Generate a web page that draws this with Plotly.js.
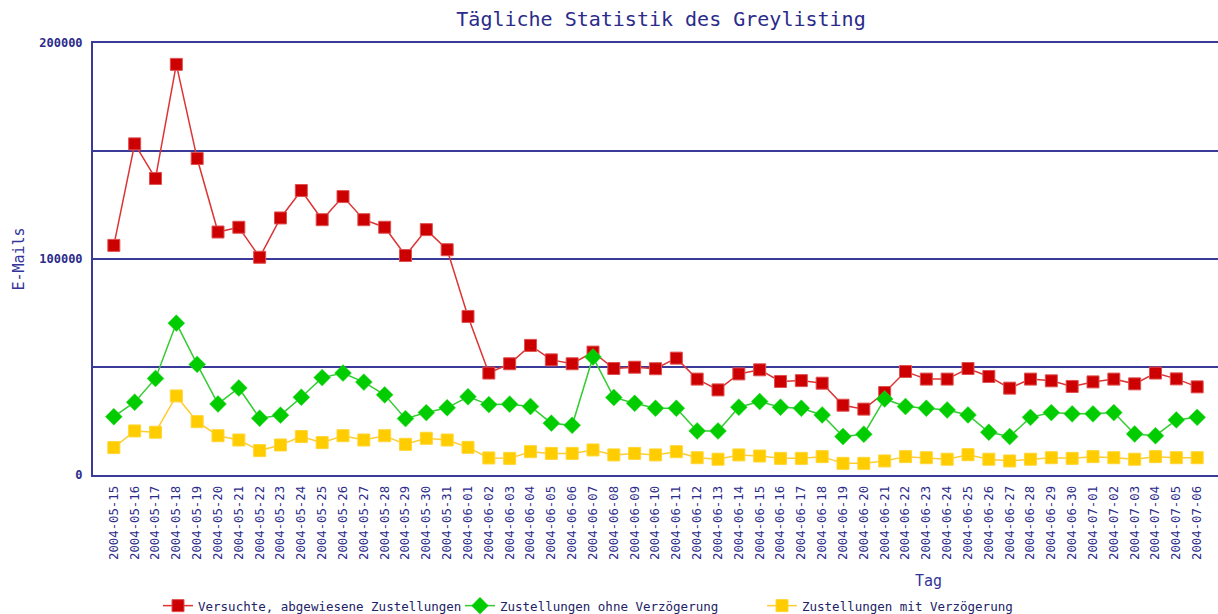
<!DOCTYPE html>
<html>
<head>
<meta charset="utf-8">
<script src="https://cdn.plot.ly/plotly-3.0.1.min.js"></script>
<style>html,body{margin:0;padding:0;background:#fff}#chart{width:1218px;height:614px}</style>
</head>
<body>
<div id="chart"></div>
<script>
const days = ["2004-05-15","2004-05-16","2004-05-17","2004-05-18","2004-05-19","2004-05-20","2004-05-21","2004-05-22","2004-05-23","2004-05-24","2004-05-25","2004-05-26","2004-05-27","2004-05-28","2004-05-29","2004-05-30","2004-05-31","2004-06-01","2004-06-02","2004-06-03","2004-06-04","2004-06-05","2004-06-06","2004-06-07","2004-06-08","2004-06-09","2004-06-10","2004-06-11","2004-06-12","2004-06-13","2004-06-14","2004-06-15","2004-06-16","2004-06-17","2004-06-18","2004-06-19","2004-06-20","2004-06-21","2004-06-22","2004-06-23","2004-06-24","2004-06-25","2004-06-26","2004-06-27","2004-06-28","2004-06-29","2004-06-30","2004-07-01","2004-07-02","2004-07-03","2004-07-04","2004-07-05","2004-07-06"];
const rejected = [106300,153300,137300,190100,146500,112500,114700,100800,119000,131700,118200,128900,118200,114700,101600,113600,104300,73400,47200,51500,60000,53300,51500,56900,49300,49900,49200,54100,44400,39400,46800,48700,43300,43700,42500,32300,30500,38200,47900,44400,44400,49300,45600,40200,44400,43600,41000,43100,44400,42200,47200,44500,40800];
const noDelay = [27000,33700,44700,70300,51200,32900,40300,26300,27700,36000,45100,47200,43000,37100,26100,28900,31100,36200,32600,32800,31700,24000,23000,54600,35900,33200,30900,30900,20400,20400,31400,34000,31400,30900,27800,17800,18900,35200,31700,30900,30100,27800,19800,17800,26700,28900,28300,28300,28900,19000,18200,25500,26700];
const withDelay = [12700,20400,19800,36600,24700,18200,16200,11300,13900,17800,15000,18200,16200,18200,14200,17000,16200,12800,7900,7700,10800,10000,10000,11600,9300,10000,9300,10800,8000,7300,9300,8800,7700,7700,8500,5400,5400,6500,8500,8000,7300,9400,7300,6500,7300,8000,7700,8500,8000,7300,8500,8000,8000];
const seriesNames = ["Versuchte, abgewiesene Zustellungen","Zustellungen ohne Verzögerung","Zustellungen mit Verzögerung"];
const yTickVals = [0,50000,100000,150000,200000];
const yTickText = ["0","","100000","","200000"];

const navy = "#2b2b8a";
const mono = "DejaVu Sans Mono, monospace";

const traces = [
  {x: days, y: rejected, name: seriesNames[0], type: "scatter", mode: "lines+markers",
   line: {color: "#dd3333", width: 1.5}, marker: {symbol: "square", size: 12, color: "#cc0000", line: {color: "#e05050", width: 1}}},
  {x: days, y: noDelay, name: seriesNames[1], type: "scatter", mode: "lines+markers",
   line: {color: "#33cc33", width: 1.5}, marker: {symbol: "diamond", size: 13, color: "#00cc00", line: {color: "#33dd33", width: 0.5}}},
  {x: days, y: withDelay, name: seriesNames[2], type: "scatter", mode: "lines+markers",
   line: {color: "#ffcc33", width: 1.5}, marker: {symbol: "square", size: 12, color: "#ffcc00", line: {color: "#ffd633", width: 1}}}
];

const layout = {
  width: 1218, height: 614,
  margin: {l: 93, r: 0, t: 43, b: 139, autoexpand: false},
  paper_bgcolor: "#ffffff", plot_bgcolor: "#ffffff",
  title: {text: "Tägliche Statistik des Greylisting", font: {family: mono, size: 20, color: navy},
          x: 661/1218, xanchor: "center", xref: "container", y: 1 - 19/614, yanchor: "middle", yref: "container"},
  xaxis: {type: "category", range: [-1, 53], showgrid: false, zeroline: false,
          showline: true, linecolor: "#3a3a99", linewidth: 2, mirror: true,
          tickangle: -90, ticks: "", ticklabelstandoff: 4,
          tickfont: {family: mono, size: 12.3, color: navy}, automargin: false},
  yaxis: {range: [0, 200000], tickvals: yTickVals, ticktext: yTickText,
          showgrid: true, gridcolor: "#3a3a99", gridwidth: 2, zeroline: false,
          showline: true, linecolor: "#3a3a99", linewidth: 2,
          ticks: "", ticklabelstandoff: 6,
          tickfont: {family: mono, size: 12, color: navy, weight: "bold"},
          title: {text: "E-Mails", font: {family: mono, size: 15, color: "#333399"}, standoff: 11},
          automargin: false},
  showlegend: true,
  legend: {orientation: "h", x: (158-93)/1125, xanchor: "left", y: -(606-475)/432, yanchor: "middle",
           font: {family: mono, size: 12.5, color: "#222266"}, entrywidth: 257, entrywidthmode: "pixels",
           itemwidth: 30, bgcolor: "rgba(0,0,0,0)"},
  annotations: [{text: "Tag", xref: "paper", yref: "paper", x: (928-93)/1125, y: -(581-475)/432,
                 xanchor: "center", yanchor: "middle", showarrow: false,
                 font: {family: mono, size: 15, color: "#333399"}}]
};

Plotly.newPlot("chart", traces, layout, {displayModeBar: false, staticPlot: true});
</script>
</body>
</html>
